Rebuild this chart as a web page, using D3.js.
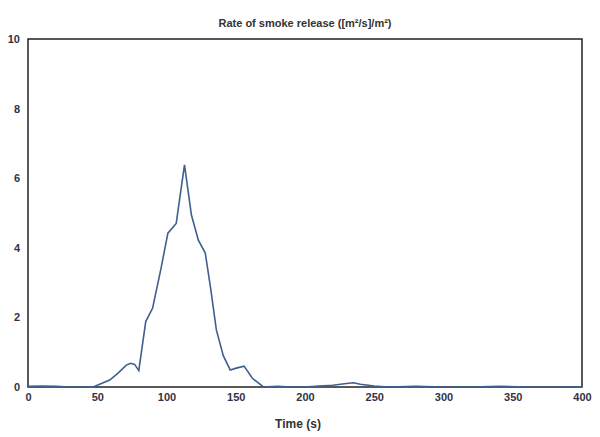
<!DOCTYPE html><html><head><script src="https://cdn.jsdelivr.net/npm/d3@7"></script>
<style>body{margin:0;background:#fff}</style></head><body><svg width="600" height="437"></svg><script>
const times=[0,10,20,30,40,47,53,59,65,71,74,77,80,85,90,96,101,107,113,118,123,128,132,136,141,146,151,156,162,170,180,190,200,210,220,230,235,240,250,260,280,300,320,340,360,380,400];
const values=[0.02,0.03,0.02,0.0,0.0,0.0,0.1,0.2,0.4,0.63,0.68,0.65,0.47,1.88,2.27,3.4,4.42,4.7,6.38,4.94,4.22,3.85,2.8,1.64,0.9,0.49,0.55,0.6,0.25,0.0,0.02,0.0,0.0,0.03,0.05,0.1,0.12,0.08,0.03,0.0,0.02,0.0,0.0,0.02,0.0,0.0,0.0];
const xTicks=[0,50,100,150,200,250,300,350,400];
const yTicks=[0,2,4,6,8,10];
const svg=d3.select("svg");
const x=d3.scaleLinear().domain([0,400]).range([28,582]);
const y=d3.scaleLinear().domain([0,10]).range([387,39]);
svg.append("rect").attr("x",28).attr("y",39).attr("width",554).attr("height",348).attr("fill","none").attr("stroke","#222").attr("stroke-width",1.5);
const ff="Arial, Liberation Sans, sans-serif";
svg.append("g").attr("transform","translate(0,387)").call(d3.axisBottom(x).tickValues(xTicks).tickSize(0).tickPadding(6))
 .call(g=>{g.select(".domain").remove();g.selectAll("text").attr("font-family",ff).attr("font-size",11).attr("font-weight","bold").attr("fill","#334");});
svg.append("g").attr("transform","translate(28,0)").call(d3.axisLeft(y).tickValues(yTicks).tickSize(0).tickPadding(8))
 .call(g=>{g.select(".domain").remove();g.selectAll("text").attr("font-family",ff).attr("font-size",11).attr("font-weight","bold").attr("fill","#334");});
svg.append("path").datum(times.map((t,i)=>[t,values[i]])).attr("fill","none").attr("stroke","#3f5f8f").attr("stroke-width",1.6)
 .attr("d",d3.line().x(d=>x(d[0])).y(d=>y(d[1])));
svg.append("text").attr("x",305).attr("y",27).attr("text-anchor","middle").attr("font-family",ff).attr("font-size",11).attr("font-weight","bold").attr("fill","#333").text("Rate of smoke release ([m²/s]/m²)");
svg.append("text").attr("x",298).attr("y",428).attr("text-anchor","middle").attr("font-family",ff).attr("font-size",12).attr("font-weight","bold").attr("fill","#333").text("Time (s)");
</script></body></html>
